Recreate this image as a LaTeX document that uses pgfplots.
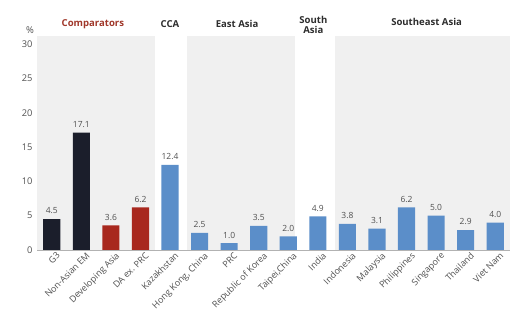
\documentclass[border=0pt]{standalone}
\usepackage{pgfplots}
\pgfplotsset{compat=1.18}
\usepackage{fontspec}
\setmainfont{Open Sans}
\definecolor{navy}{RGB}{27,30,43}
\definecolor{brickred}{RGB}{168,40,30}
\definecolor{steelblue}{RGB}{91,142,201}
\definecolor{shade}{RGB}{240,240,240}
\definecolor{txtgray}{RGB}{80,80,80}
\definecolor{hdrred}{RGB}{160,55,42}
\definecolor{hdrgray}{RGB}{45,45,45}
\begin{document}
\begin{tikzpicture}[x=1bp,y=1bp]
\useasboundingbox (0,0) rectangle (527,326);
\begin{axis}[
  at={(37bp,76bp)}, anchor=south west,
  scale only axis, width=473bp, height=214bp,
  xmin=-0.5, xmax=15.5, ymin=0, ymax=31.2,
  clip=false,
  axis lines*=left,
  y axis line style={draw=none},
  x axis line style={draw=gray!60, line width=0.8pt},
  ytick={0,5,10,15,20,25,30},
  yticklabels={0,5,10,15,20,25,30},
  xtick={0,...,15},
  major tick length=0pt,
  xticklabels={G3,Non-Asian EM,Developing Asia,DA ex. PRC,Kazakhstan,{Hong Kong, China},PRC,Republic of Korea,{Taipei,China},India,Indonesia,Malaysia,Philippines,Singapore,Thailand,Viet Nam},
  x tick label style={rotate=45, anchor=north east, font=\fontsize{9}{10}\selectfont, color=txtgray, inner sep=1pt, yshift=-3bp, xshift=3bp},
  y tick label style={font=\fontsize{9.3}{10}\selectfont, color=txtgray, xshift=-1bp},
  /pgf/number format/assume math mode=true,
  nodes near coords={\pgfmathprintnumber[fixed,fixed zerofill,precision=1,assume math mode=true]{\pgfplotspointmeta}},
  every node near coord/.append style={font=\fontsize{8.5}{10}\selectfont, color=txtgray, yshift=1.5bp},
]
% background group panels
\addplot[fill=shade, draw=none, nodes near coords={}] coordinates {(-0.5,0) (3.5,0) (3.5,31.2) (-0.5,31.2)} -- cycle;
\addplot[fill=shade, draw=none, nodes near coords={}] coordinates {(4.58,0) (8.24,0) (8.24,31.2) (4.58,31.2)} -- cycle;
\addplot[fill=shade, draw=none, nodes near coords={}] coordinates {(9.59,0) (15.5,0) (15.5,31.2) (9.59,31.2)} -- cycle;
% bars
\addplot[ybar, bar width=0.58, bar shift=0pt, fill=navy, draw=none] coordinates {(0,4.5) (1,17.1)};
\addplot[ybar, bar width=0.58, bar shift=0pt, fill=brickred, draw=none] coordinates {(2,3.6) (3,6.2)};
\addplot[ybar, bar width=0.58, bar shift=0pt, fill=steelblue, draw=none] coordinates {(4,12.4) (5,2.5) (6,1.0) (7,3.5) (8,2.0) (9,4.9) (10,3.8) (11,3.1) (12,6.2) (13,5.0) (14,2.9) (15,4.0)};
% axis line redraw on top
\draw[gray!60, line width=0.8pt] (axis cs:-0.5,0) -- (axis cs:15.5,0);
% headers
\node[font=\fontsize{9.6}{11}\selectfont\bfseries, color=hdrred] at (axis cs:1.39,32.9) {Comparators};
\node[font=\fontsize{9.6}{11}\selectfont\bfseries, color=hdrgray] at (axis cs:4.0,32.9) {CCA};
\node[font=\fontsize{9.6}{11}\selectfont\bfseries, color=hdrgray] at (axis cs:6.27,32.9) {East Asia};
\node[font=\fontsize{9.6}{11}\selectfont\bfseries, color=hdrgray, align=center, inner sep=0pt] at (axis cs:8.85,32.8) {South\\[-1pt]Asia};
\node[font=\fontsize{9.6}{11}\selectfont\bfseries, color=hdrgray] at (axis cs:12.68,33.2) {Southeast Asia};
\node[font=\fontsize{9.5}{10}\selectfont, color=txtgray, xshift=-7bp] at (axis cs:-0.5,32.0) {\%};
\end{axis}
\end{tikzpicture}
\end{document}
